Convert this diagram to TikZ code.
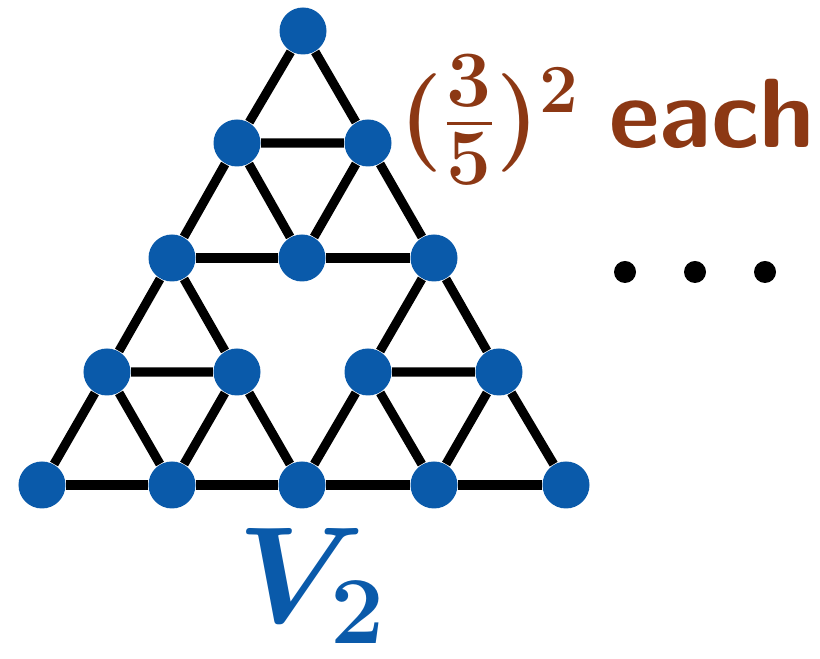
\RequirePackage{fix-cm}
\documentclass[tikz,border=0pt]{standalone}
\usepackage{amsmath}
\usepackage{xcolor}
\usepackage{tikz}
\definecolor{vblue}{RGB}{10,90,170}
\definecolor{labbrown}{RGB}{140,56,20}

\begin{document}
\begin{tikzpicture}[vert/.style={circle, fill=vblue, minimum size=0.47cm, inner sep=0pt},
                    edge/.style={line width=2.6pt},
                    dotnode/.style={circle, fill=black, minimum size=0.22cm, inner sep=0pt}]
                \useasboundingbox (-0.42,-1.74) rectangle (7.78,4.85);
                % bottom row
                \node[vert] (a1) at (0,0) {};
                \node[vert] (a2) at (1.3,0) {};
                \node[vert] (a3) at (2.6,0) {};
                \node[vert] (a4) at (3.92,0) {};
                \node[vert] (a5) at (5.24,0) {};
                % second row
                \node[vert] (b1) at (0.65,1.13) {};
                \node[vert] (b2) at (1.95,1.13) {};
                \node[vert] (b3) at (3.26,1.13) {};
                \node[vert] (b4) at (4.57,1.13) {};
                % third row
                \node[vert] (c1) at (1.3,2.27) {};
                \node[vert] (c2) at (2.6,2.27) {};
                \node[vert] (c3) at (3.92,2.27) {};
                % fourth row
                \node[vert] (d1) at (1.95,3.42) {};
                \node[vert] (d2) at (3.26,3.42) {};
                % top
                \node[vert] (e) at (2.61,4.54) {};
                
                % lower left part
                \draw[edge] (a1) -- (a2) -- (a3);
                \draw[edge] (a1) -- (b1) -- (c1) -- (b2) -- (a3);
                \draw[edge] (b1) -- (b2) -- (a2) -- (b1);
                % lower right part
                \draw[edge] (a3) -- (a4) -- (a5);
                \draw[edge] (a3) -- (b3) -- (c3) -- (b4) -- (a5);
                \draw[edge] (b3) -- (b4) -- (a4) -- (b3);
                % upper part
                \draw[edge] (c1) -- (c2) -- (c3);
                \draw[edge] (c1) -- (d1) -- (e) -- (d2) -- (c3);
                \draw[edge] (d1) -- (d2) -- (c2) -- (d1);
                
                \node[anchor=base west, inner sep=0pt, text=labbrown, font=\fontsize{28}{34}\selectfont\boldmath] (lab) at (3.57,3.37) {$(\frac{\scalebox{1.16}{$\scriptstyle 3$}}{\scalebox{1.16}{$\scriptstyle 5$}})^2$ \textsf{\bfseries each}};
                
                \node[dotnode] (dot1) at (5.83,2.13) {};
                \node[dotnode] (dot2) at (6.53,2.13) {};
                \node[dotnode] (dot3) at (7.23,2.13) {};
                
                \node[anchor=base west, inner sep=0pt, text=vblue, font=\fontsize{39}{46}\selectfont\boldmath] (vtwo) at (1.95,-1.38) {$V_2$};
            \end{tikzpicture}
\end{document}
